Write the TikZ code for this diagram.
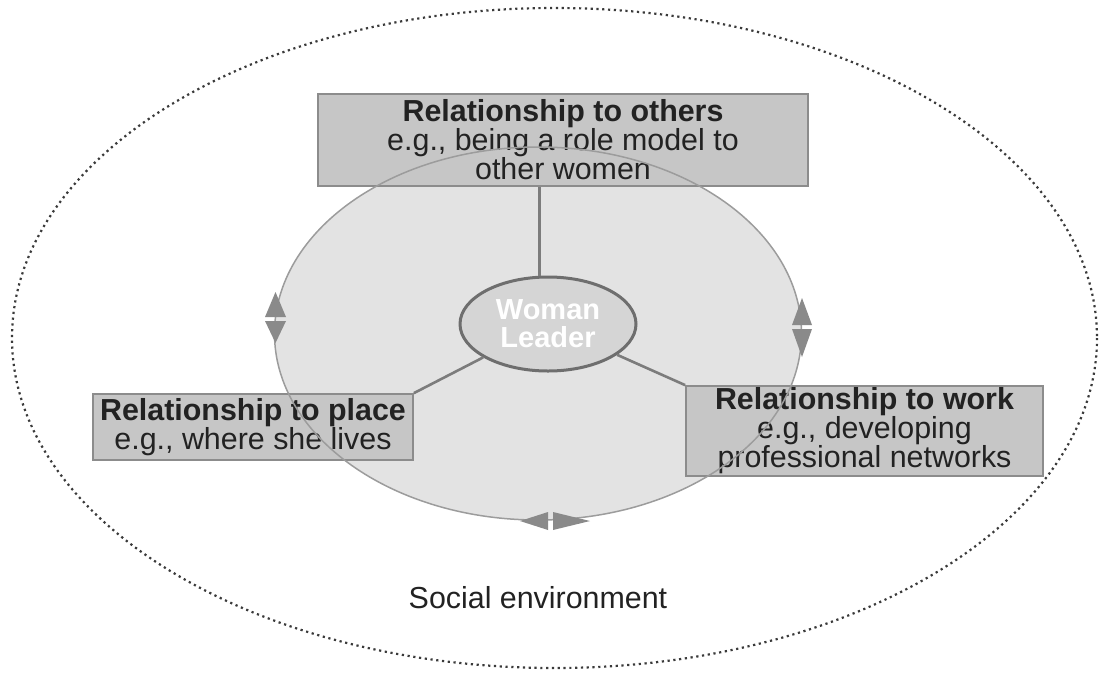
\documentclass[tikz,border=0pt]{standalone}
\usepackage{fontspec}
\setmainfont{Liberation Sans}
\usetikzlibrary{shapes.geometric}

\definecolor{envdots}{HTML}{3A3A3A}
\definecolor{ringfill}{HTML}{E3E3E3}
\definecolor{ringline}{HTML}{9C9C9C}
\definecolor{boxfill}{HTML}{C6C6C6}
\definecolor{boxline}{HTML}{8C8C8C}
\definecolor{leaderfill}{HTML}{D5D5D5}
\definecolor{leaderline}{HTML}{6E6E6E}
\definecolor{linkgrey}{HTML}{7C7C7C}
\definecolor{tipgrey}{HTML}{8A8A8A}
\definecolor{txt}{HTML}{222222}

\begin{document}
\begin{tikzpicture}[x=1pt,y=-1pt,
  infobox/.style={draw=boxline, line width=1.8pt, fill=boxfill, align=center,
    inner sep=0pt, text=txt, font=\fontsize{30.4}{29}\selectfont},
  centre/.style={ellipse, draw=leaderline, line width=3pt, fill=leaderfill,
    inner sep=0pt, align=center, text=white,
    font=\bfseries\fontsize{29}{28}\selectfont},
  link/.style={draw=linkgrey, line width=2.6pt},
  tip/.style={fill=tipgrey},
  envtext/.style={text=txt, font=\fontsize{30.4}{29}\selectfont}
]
\useasboundingbox (0,0) rectangle (1099,673);

% social environment (dotted outer boundary)
\draw[envdots, line width=2.2pt, dash pattern=on 2.2pt off 3.6pt]
  (554.5,338) ellipse [x radius=542.5, y radius=330];

% inner ring fill
\fill[ringfill] (538,333.5) ellipse [x radius=263.5, y radius=186.5];

% centre
\node[centre, minimum width=176pt, minimum height=94pt] (leader) at (548,324) {Woman\\Leader};

% the three relationships
\node[infobox, minimum width=490pt, minimum height=92pt] (others) at (563,140)
  {\textbf{Relationship to others}\\e.g., being a role model to\\other women};
\node[infobox, minimum width=320pt, minimum height=66pt] (place) at (253,427)
  {\textbf{Relationship to place}\\e.g., where she lives};
\node[infobox, minimum width=357pt, minimum height=90pt] (work) at (864.5,431)
  {\textbf{Relationship to work}\\e.g., developing\\professional networks};

% connectors
\draw[link] (others.south -| leader.100) -- (leader.100);
\draw[link] (leader) -- (place.north east);
\draw[link] (leader) -- (work.north west);

% ring outline over the boxes
\draw[ringline, line width=1.5pt] (538,333.5) ellipse [x radius=263.5, y radius=186.5];

% double arrowheads on the ring
\fill[tip] (265,317) -- (275.5,292) -- (286,317) -- cycle;
\fill[tip] (265,321) -- (275.5,343) -- (286,321) -- cycle;
\fill[tip] (792,325) -- (802,298) -- (812,325) -- cycle;
\fill[tip] (792,329) -- (802,357) -- (812,329) -- cycle;
\fill[tip] (548,512) -- (520,521) -- (548,530) -- cycle;
\fill[tip] (553,512) -- (590,521) -- (553,530) -- cycle;

\node[envtext] (env) at (538,598) {Social environment};
\end{tikzpicture}
\end{document}
